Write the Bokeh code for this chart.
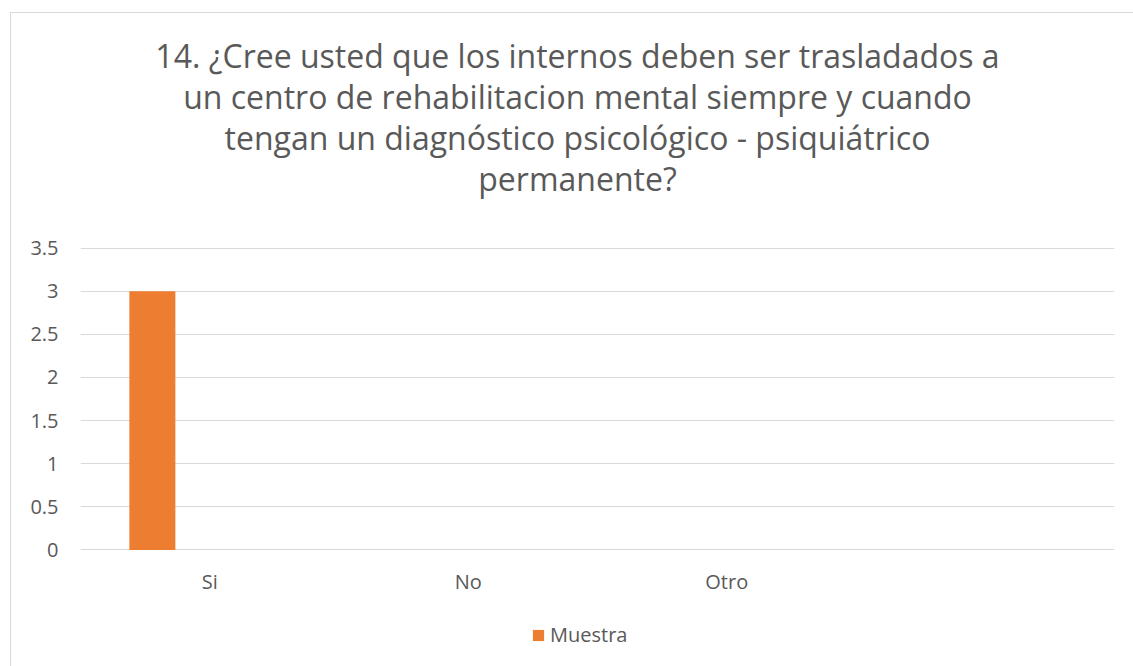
from bokeh.plotting import figure
from bokeh.models import Label, Legend, LegendItem, ColumnDataSource, FactorRange, Range1d
from bokeh.layouts import column
from bokeh.transform import dodge
from bokeh.embed import file_html
from bokeh.resources import INLINE

categories = ["Si", "No", "Otro", " "]
muestra = [3, 0, 0, 0]
y_ticks = [0, 0.5, 1, 1.5, 2, 2.5, 3, 3.5]
y_tick_labels = ["0", "0.5", "1", "1.5", "2", "2.5", "3", "3.5"]
title_lines = [
    "14. ¿Cree usted que los internos deben ser trasladados a",
    "un centro de rehabilitacion mental siempre y cuando",
    "tengan un diagnóstico psicológico - psiquiátrico",
    "permanente?",
]
series_name = "Muestra"

TXT = "#595959"
FONT = "Open Sans"
ORANGE = "#ED7D31"
W = 1122

# ---- title strip ----
t = figure(width=W, height=220, output_backend="svg", toolbar_location=None,
           x_axis_type=None, y_axis_type=None, min_border=0,
           min_border_left=69, min_border_right=19,
           x_range=Range1d(0, 1), y_range=Range1d(0, 1))
t.outline_line_color = None
t.grid.grid_line_color = None
for line, y in zip(title_lines, [178, 137, 96, 55]):
    t.add_layout(Label(x=497, y=y, x_units="screen", y_units="screen", text=line,
                       text_align="center", text_baseline="alphabetic",
                       text_font=FONT, text_font_size="32px", text_color=TXT))

# ---- main chart ----
src = ColumnDataSource(dict(cat=categories, val=muestra))
xr = FactorRange(*categories, range_padding=0)

p = figure(x_range=xr, y_range=Range1d(-0.006, 3.506),
           width=W, height=367, output_backend="svg", toolbar_location=None,
           min_border_left=69, min_border_right=19, min_border_top=14, min_border_bottom=50)
p.outline_line_color = None

p.vbar(x=dodge("cat", -0.222, range=xr), top="val", width=0.178,
       source=src, fill_color=ORANGE, line_color=None)

p.xgrid.grid_line_color = None
p.ygrid.grid_line_color = "#D9D9D9"
p.ygrid.grid_line_width = 1
p.yaxis.ticker = y_ticks
p.yaxis.major_label_overrides = {k: v for k, v in zip(y_ticks, y_tick_labels)}

for ax in (p.xaxis[0], p.yaxis[0]):
    ax.axis_line_color = None
    ax.major_tick_line_color = None
    ax.minor_tick_line_color = None
    ax.major_tick_out = 0
    ax.major_tick_in = 0
    ax.major_label_text_color = TXT
    ax.major_label_text_font = FONT
    ax.major_label_text_font_size = "20px"
p.yaxis.major_label_standoff = 22
p.xaxis.major_label_standoff = 17

# ---- legend strip (series key for the chart above) ----
lg = figure(width=W, height=66, output_backend="svg", toolbar_location=None,
            x_axis_type=None, y_axis_type=None, min_border=0,
            min_border_left=69, min_border_right=19,
            x_range=xr, y_range=Range1d(10, 11))
lg.outline_line_color = None
lg.grid.grid_line_color = None
key = lg.vbar(x=dodge("cat", -0.222, range=xr), top="val", width=0.178,
              source=src, fill_color=ORANGE, line_color=None)
legend = Legend(items=[LegendItem(label=series_name, renderers=[key])],
                location=(451, 18), orientation="horizontal",
                padding=0, margin=0, spacing=0, label_standoff=5,
                glyph_width=14, glyph_height=14,
                label_text_font=FONT, label_text_font_size="20px", label_text_color=TXT,
                label_text_baseline="alphabetic",
                border_line_color=None, background_fill_alpha=0)
lg.add_layout(legend, "center")

layout = column(t, p, lg, spacing=0)
layout.styles = {"border-left": "1px solid #D9D9D9", "border-top": "1px solid #D9D9D9",
                 "margin-left": "10px", "margin-top": "12px"}

open("out.html", "w").write(file_html(layout, INLINE))
